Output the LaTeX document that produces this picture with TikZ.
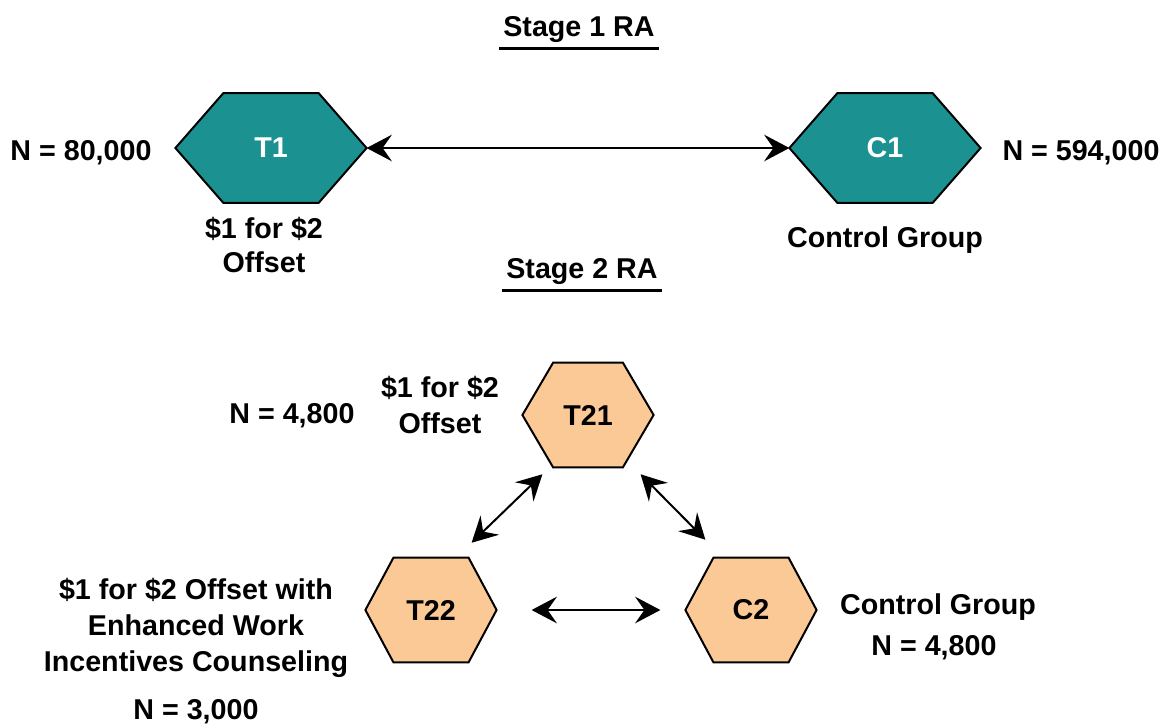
\documentclass[tikz,border=0pt]{standalone}
\usepackage{fontspec}
\setmainfont{Liberation Sans}
\usetikzlibrary{arrows.meta,backgrounds}
\definecolor{hexteal}{RGB}{27,145,145}
\definecolor{hexpeach}{RGB}{250,201,150}

% hexagon outline around a rectangular node: node name, corner inset, fill colour
\newcommand\drawhex[3]{%
  \begin{scope}[on background layer]
    \filldraw[fill=#3, draw=black, line width=1.5pt, line join=miter]
      (#1.west) -- ([xshift=#2]#1.north west) -- ([xshift=-#2]#1.north east)
      -- (#1.east) -- ([xshift=-#2]#1.south east) -- ([xshift=#2]#1.south west) -- cycle;
  \end{scope}}

\begin{document}
\begin{tikzpicture}[x=0.75pt,y=-0.75pt,
  lbl/.style={font=\fontsize{21.5}{26}\selectfont\bfseries, align=center, inner sep=0pt},
  bighex/.style={lbl, text=white, minimum width=143pt, minimum height=82pt},
  smallhex/.style={lbl, text=black, minimum width=98pt, minimum height=78pt},
  link/.style={{Stealth[length=19pt,width=20pt,inset=7pt]}-{Stealth[length=19pt,width=20pt,inset=7pt]}, line width=1.5pt},
  rule/.style={line width=2pt}
]
\useasboundingbox (0,0) rectangle (1164,726);

% ---- Stage 1 ----
\node[lbl] (s1) at (579,30) {Stage 1 RA};
\draw[rule] ([xshift=-3pt,yshift=-4pt]s1.south west) -- ([xshift=3pt,yshift=-4pt]s1.south east);

\node[bighex] (T1) at (271,148) {T1};
\drawhex{T1}{36pt}{hexteal}
\node[bighex] (C1) at (885,148) {C1};
\drawhex{C1}{36pt}{hexteal}

\node[lbl] (nT1) at (81,153) {N = 80,000};
\node[lbl] (nC1) at (1081,153) {N = 594,000};
\node[lbl, align=center] (dT1) at (264,245) {\$1 for \$2\\Offset};
\node[lbl] (dC1) at (885,240) {Control Group};

\draw[link, line width=1.2pt] (T1.east) -- (C1.west);

% ---- Stage 2 ----
\node[lbl] (s2) at (582,272) {Stage 2 RA};
\draw[rule] ([xshift=-3pt,yshift=-4pt]s2.south west) -- ([xshift=3pt,yshift=-4pt]s2.south east);

\node[smallhex] (T21) at (588,415) {T21};
\drawhex{T21}{23pt}{hexpeach}
\node[smallhex] (T22) at (431,610) {T22};
\drawhex{T22}{21pt}{hexpeach}
\node[smallhex] (C2) at (751,610) {C2};
\drawhex{C2}{21pt}{hexpeach}

\node[lbl] (nT21) at (292,416) {N = 4,800};
\node[lbl, font=\fontsize{21.5}{27}\selectfont\bfseries] (dT21) at (440,405) {\$1 for \$2\\Offset};
\node[lbl, font=\fontsize{21.5}{27}\selectfont\bfseries] (dT22) at (196,628)
  {\$1 for \$2 Offset with\\Enhanced Work\\Incentives Counseling};
\node[lbl] (nT22) at (196,712) {N = 3,000};
\node[lbl] (dC2) at (938,607) {Control Group};
\node[lbl] (nC2) at (934,648) {N = 4,800};

\draw[link] ([shift={(20,7)}]T21.south west) -- ([shift={(-25,-15)}]T22.north east);
\draw[link] ([shift={(-13,7)}]T21.south east) -- ([shift={(20,-18)}]C2.north west);
\draw[link] ([shift={(35,0)}]T22.east) -- ([shift={(-25,0)}]C2.west);
\end{tikzpicture}
\end{document}
